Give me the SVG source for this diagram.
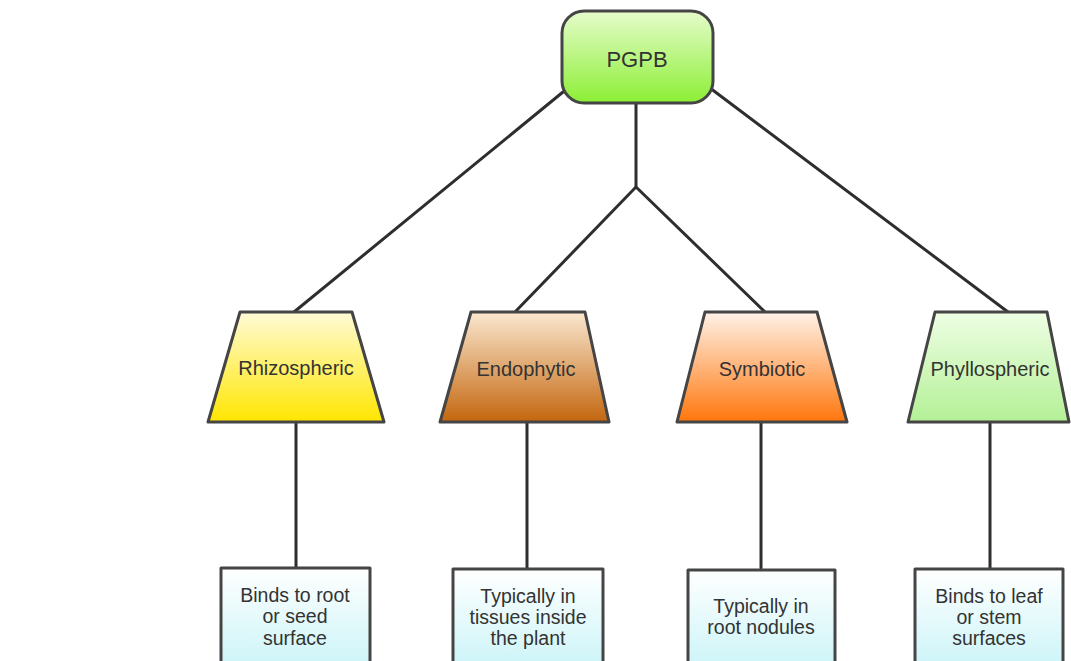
<svg xmlns="http://www.w3.org/2000/svg" width="1071" height="661" viewBox="0 0 1071 661">
<defs>
<linearGradient id="gRoot" x1="0" y1="0" x2="0" y2="1"><stop offset="0" stop-color="#e6fccc"/><stop offset="1" stop-color="#8cef35"/></linearGradient>
<linearGradient id="gRhizo" x1="0" y1="0" x2="0" y2="1"><stop offset="0" stop-color="#fffbd6"/><stop offset="1" stop-color="#ffe600"/></linearGradient>
<linearGradient id="gEndo" x1="0" y1="0" x2="0" y2="1"><stop offset="0" stop-color="#fbe8d0"/><stop offset="1" stop-color="#c4660e"/></linearGradient>
<linearGradient id="gSym" x1="0" y1="0" x2="0" y2="1"><stop offset="0" stop-color="#fff2e8"/><stop offset="1" stop-color="#ff760c"/></linearGradient>
<linearGradient id="gPhyl" x1="0" y1="0" x2="0" y2="1"><stop offset="0" stop-color="#eefee4"/><stop offset="1" stop-color="#b4f096"/></linearGradient>
<linearGradient id="gBox" x1="0" y1="0" x2="0" y2="1"><stop offset="0" stop-color="#ffffff"/><stop offset="1" stop-color="#c6f3f7"/></linearGradient>
</defs>
<style>
.shape{stroke:#454545;stroke-width:3;stroke-linejoin:round}
.conn{stroke:#2e2e2e;stroke-width:3;fill:none;stroke-linecap:round}
text{font-family:"Liberation Sans",Arial,sans-serif;fill:#333;text-anchor:middle}
.lbl{font-size:20px}
.desc{font-size:19.5px}
</style>
<rect width="1071" height="661" fill="#ffffff"/>
<g id="connectors">
<line class="conn" x1="563" y1="92" x2="294" y2="312"/>
<line class="conn" x1="710" y1="88" x2="1008" y2="312"/>
<polyline class="conn" points="636,103 636,187 515,312"/>
<line class="conn" x1="636" y1="187" x2="765" y2="312"/>
<line class="conn" x1="296" y1="422" x2="296" y2="568"/>
<line class="conn" x1="527" y1="422" x2="527" y2="568"/>
<line class="conn" x1="761" y1="422" x2="761" y2="568"/>
<line class="conn" x1="990" y1="422" x2="990" y2="568"/>
</g>
<g id="node-pgpb">
<rect class="shape" x="562" y="11" width="151" height="92" rx="22" fill="url(#gRoot)"/>
<text x="637" y="67" font-size="22">PGPB</text>
</g>
<g id="node-rhizospheric">
<polygon class="shape" points="240,312 352,312 384,422 208,422" fill="url(#gRhizo)"/>
<text class="lbl" x="296" y="375">Rhizospheric</text>
</g>
<g id="node-endophytic">
<polygon class="shape" points="471,312 585,312 609,422 440,422" fill="url(#gEndo)"/>
<text class="lbl" x="526" y="376">Endophytic</text>
</g>
<g id="node-symbiotic">
<polygon class="shape" points="705,312 817,312 847,422 677,422" fill="url(#gSym)"/>
<text class="lbl" x="762" y="376">Symbiotic</text>
</g>
<g id="node-phyllospheric">
<polygon class="shape" points="935,312 1047,312 1069,422 908,422" fill="url(#gPhyl)"/>
<text class="lbl" x="990" y="376">Phyllospheric</text>
</g>
<g id="node-rhizo-desc">
<rect class="shape" x="221" y="568" width="149" height="110" fill="url(#gBox)"/>
<text class="desc" x="295" y="602">Binds to root</text>
<text class="desc" x="295" y="623">or seed</text>
<text class="desc" x="295" y="645">surface</text>
</g>
<g id="node-endo-desc">
<rect class="shape" x="453" y="569" width="150" height="110" fill="url(#gBox)"/>
<text class="desc" x="528" y="603">Typically in</text>
<text class="desc" x="528" y="624">tissues inside</text>
<text class="desc" x="528" y="645">the plant</text>
</g>
<g id="node-sym-desc">
<rect class="shape" x="688" y="570" width="147" height="110" fill="url(#gBox)"/>
<text class="desc" x="761" y="613">Typically in</text>
<text class="desc" x="761" y="634">root nodules</text>
</g>
<g id="node-phyl-desc">
<rect class="shape" x="915" y="569" width="148" height="110" fill="url(#gBox)"/>
<text class="desc" x="989" y="603">Binds to leaf</text>
<text class="desc" x="989" y="624">or stem</text>
<text class="desc" x="989" y="645">surfaces</text>
</g>
</svg>
